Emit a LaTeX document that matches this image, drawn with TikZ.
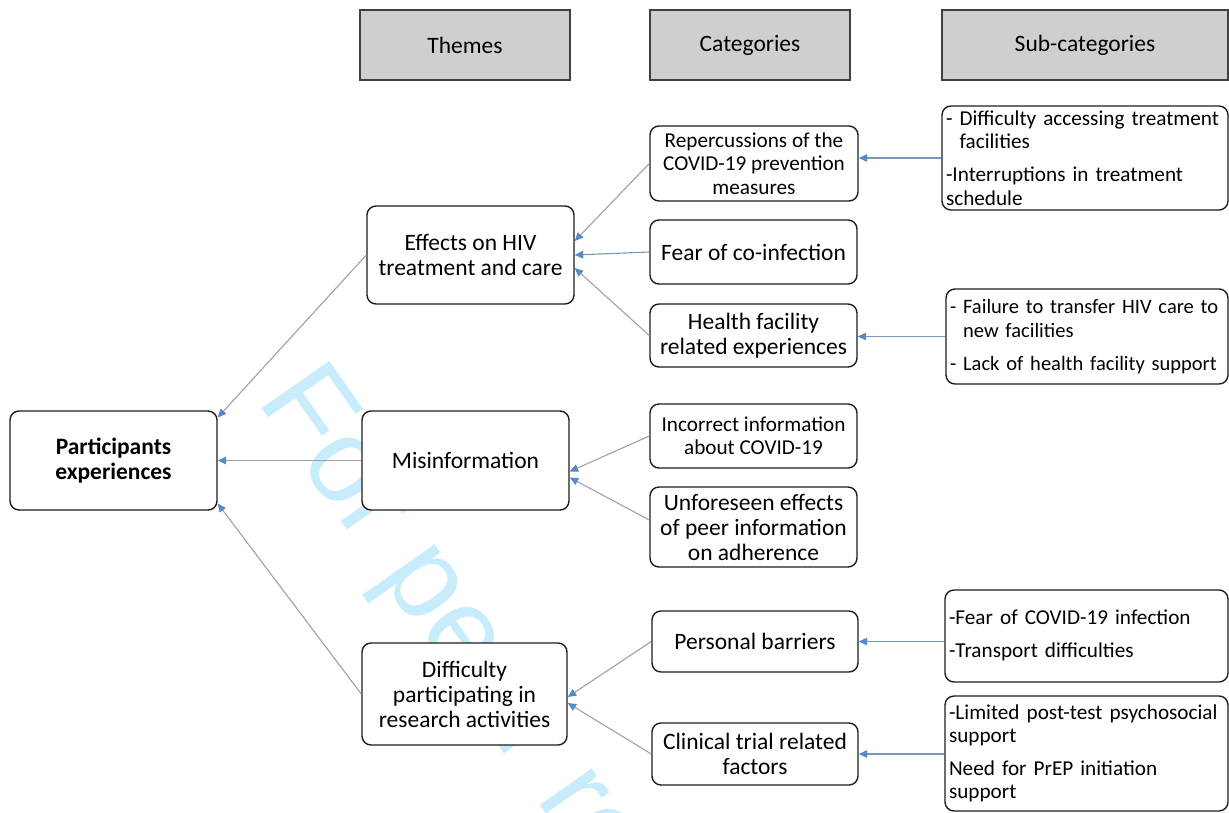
\documentclass[tikz,border=0pt]{standalone}
\usepackage{fontspec}
\setmainfont{Carlito}
\newfontfamily\wmfamily{Liberation Sans}
\usetikzlibrary{arrows.meta,calc}

\definecolor{hdrfill}{RGB}{208,206,206}
\definecolor{hdrline}{RGB}{64,64,64}
\definecolor{boxline}{RGB}{30,30,30}
\definecolor{linkgray}{RGB}{160,160,164}
\definecolor{linkblue}{RGB}{120,150,185}
\definecolor{tipblue}{RGB}{86,138,196}
\definecolor{wmblue}{RGB}{200,236,252}

\newcommand\bigtext{\fontsize{23.5}{25}\selectfont}
\newcommand\smalltext{\fontsize{21.2}{23.3}\selectfont}
\newcommand\narrowtext{\fontsize{20.5}{23.3}\selectfont}
\newcommand\oneline[1]{\mbox{#1}}

\tikzset{
  hdr/.style={draw=hdrline, line width=1.5pt, fill=hdrfill, minimum height=70pt,
              font=\bigtext, inner sep=0pt},
  box/.style={draw=boxline, line width=1.4pt, rounded corners=9pt, fill=white,
              align=center, inner sep=0pt},
  big/.style={box, font=\bigtext},
  small/.style={box, font=\smalltext},
  subbox/.style={box, align=left, font=\smalltext, inner xsep=4pt},
  link/.style={draw=linkgray, line width=1.1pt,
               -{Triangle[length=8.5pt,width=7.5pt,color=tipblue]}},
  blink/.style={link, draw=linkblue},
}

\begin{document}
\begin{tikzpicture}[x=1pt,y=-1pt]
\useasboundingbox (0,0) rectangle (1229,812);

% watermark across the page
\begin{scope}
  \clip (0,0) rectangle (1229,812);
  \node[rotate=-55, anchor=base west, inner sep=0pt, text=wmblue,
        font=\wmfamily\fontsize{120}{130}\selectfont] (wm) at (256,400)
        {For peer review only};
\end{scope}

% column headers
\node[hdr, minimum width=210pt] (hthemes) at (465,45) {Themes};
\node[hdr, minimum width=200pt] (hcats) at (750,45) {Categories};
\node[hdr, minimum width=286pt] (hsubs) at (1085,45) {Sub-categories};

% root
\node[big, minimum width=207pt, minimum height=99pt, font=\bigtext\bfseries]
  (part) at (113.5,460.5) {Participants\\experiences};

% themes
\node[big, minimum width=207pt, minimum height=98pt] (eff) at (470.5,255)
  {Effects on HIV\\treatment and care};
\node[big, minimum width=207pt, minimum height=99pt] (mis) at (465.5,460.5)
  {Misinformation};
\node[big, minimum width=205pt, minimum height=102pt] (diff) at (464.5,694)
  {Difficulty\\participating in\\research activities};

% categories
\node[small, minimum width=208pt, minimum height=75pt] (rep) at (754,163.5)
  {Repercussions of the\\COVID-19 prevention\\measures};
\node[big, minimum width=207pt, minimum height=64pt] (fear) at (753.5,252)
  {Fear of co-infection};
\node[big, minimum width=207pt, minimum height=63pt] (hlth) at (753.5,335.5)
  {Health facility\\related experiences};
\node[small, minimum width=207pt, minimum height=64pt] (inc) at (753.5,436)
  {Incorrect information\\about COVID-19};
\node[big, minimum width=207pt, minimum height=80pt] (unf) at (753.5,527)
  {Unforeseen effects\\of peer information\\on adherence};
\node[big, minimum width=206pt, minimum height=61pt] (pers) at (755,641.5)
  {Personal barriers};
\node[big, minimum width=206pt, minimum height=62pt] (clin) at (755,754)
  {Clinical trial related\\factors};

% sub-categories
\node[subbox, text width=278pt, minimum height=104pt] (sub1) at (1085,158)
  {\oneline{- Difficulty accessing treatment}\\\oneline{\hphantom{- }facilities}\\[9.7pt]
   \oneline{-Interruptions in treatment}\\\oneline{schedule}};
\node[subbox, font=\narrowtext, text width=274pt, minimum height=95pt] (sub2) at (1087,336.5)
  {\oneline{- Failure to transfer HIV care to}\\\oneline{\hphantom{- }new facilities}\\[9.7pt]
   \oneline{- Lack of health facility support}};
\node[subbox, text width=275pt, minimum height=92pt] (sub3) at (1086.5,636)
  {\raisebox{4pt}{\begin{tabular}{@{}l@{}}
     -Fear of COVID-19 infection\\[9.7pt]-Transport difficulties
   \end{tabular}}};
\node[subbox, text width=275pt, minimum height=115pt] (sub4) at (1086.5,753.5)
  {\oneline{-Limited post-test psychosocial}\\\oneline{support}\\[9.7pt]
   \oneline{Need for PrEP initiation}\\\oneline{support}};

% themes to root
\draw[link] (eff.west) -- ([yshift=43pt]part.east);
\draw[link, line width=1.4pt] (mis.west) -- (part.east);
\draw[link] (diff.west) -- ([yshift=-43pt]part.east);

% categories to themes
\draw[link] (rep.west) -- ([yshift=14pt]eff.east);
\draw[blink] (fear.west) -- (eff.east);
\draw[link] (hlth.west) -- ([yshift=-13pt]eff.east);
\draw[link] (inc.west) -- ([yshift=-11pt]mis.east);
\draw[link] ([yshift=7pt]unf.west) -- ([yshift=-17pt]mis.east);
\draw[link] (pers.west) -- ([yshift=-3pt]diff.east);
\draw[link] (clin.west) -- ([yshift=-9pt]diff.east);

% sub-categories to categories
\draw[blink] (sub1.west) -- (sub1.west -| rep.east);
\draw[blink] (sub2.west) -- (sub2.west -| hlth.east);
\draw[blink] (pers.east -| sub3.west) -- (pers.east);
\draw[blink] (clin.east -| sub4.west) -- (clin.east);
\end{tikzpicture}
\end{document}
